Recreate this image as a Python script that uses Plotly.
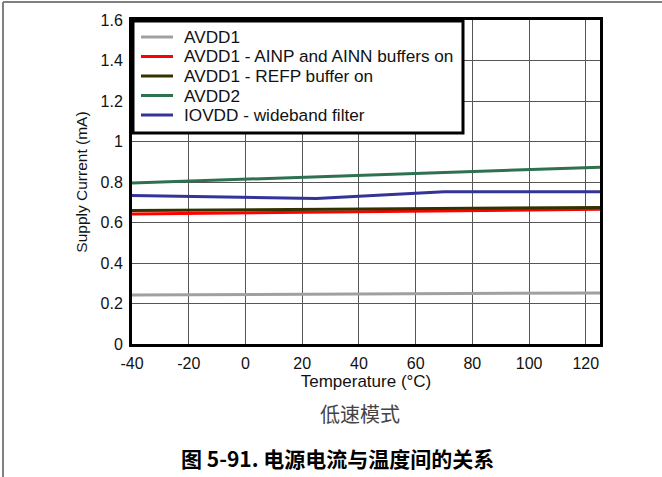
import plotly.graph_objects as go

# values (supply current, mA)
temp_c = [-40, 25, 70, 125]
avdd1 = [0.242, 0.246, 0.249, 0.252]
avdd1_ainp_ainn = [0.642, 0.650, 0.656, 0.665]
avdd1_refp = [0.659, 0.664, 0.668, 0.674]
avdd2 = [0.795, 0.825, 0.848, 0.873]
iovdd_wideband = [0.733, 0.718, 0.752, 0.752]

series_names = ["AVDD1", "AVDD1 - AINP and AINN buffers on", "AVDD1 - REFP buffer on",
                "AVDD2", "IOVDD - wideband filter"]
series_vals = [avdd1, avdd1_ainp_ainn, avdd1_refp, avdd2, iovdd_wideband]
series_colors = ["#a0a0a0", "#ff0000", "#333300", "#2e7050", "#333399"]

x_ticks = [-40, -20, 0, 20, 40, 60, 80, 100, 120]
x_ticklabels = ["-40", "-20", "0", "20", "40", "60", "80", "100", "120"]
y_ticks = [0, 0.2, 0.4, 0.6, 0.8, 1, 1.2, 1.4, 1.6]

FONT = "Liberation Sans, Arial, sans-serif"
CJK = "Noto Sans CJK SC, sans-serif"

W, H = 662, 477
L, R, T, B = 132, 62, 20, 133
PW, PH = W - L - R, H - T - B


def px(x):  # pixel column -> paper x
    return (x - L) / PW


def py(y):  # pixel row -> paper y
    return (H - B - y) / PH


fig = go.Figure()
for name, vals, col in zip(series_names, series_vals, series_colors):
    fig.add_trace(go.Scatter(x=temp_c, y=vals, name=name, mode="lines",
                             line=dict(color=col, width=3)))

axis_common = dict(showline=True, linecolor="black", linewidth=3, mirror=True,
                   showgrid=True, gridcolor="#555555", gridwidth=1, zeroline=False,
                   tickfont=dict(family=FONT, size=16, color="#111"),
                   ticks="outside", ticklen=3, tickcolor="rgba(0,0,0,0)")

fig.update_xaxes(range=[-40, 125], tickvals=x_ticks, ticktext=x_ticklabels,
                 title=dict(text="Temperature (°C)", font=dict(family=FONT, size=17, color="#111"),
                            standoff=0),
                 **axis_common)
fig.update_yaxes(range=[0, 1.6], tickvals=y_ticks,
                 title=dict(text="Supply Current (mA)", font=dict(family=FONT, size=15.5, color="#111"),
                            standoff=10),
                 **axis_common)

fig.update_layout(
    width=W, height=H,
    margin=dict(l=L, r=R, t=T, b=B),
    plot_bgcolor="white", paper_bgcolor="white",
    showlegend=False,
    font=dict(family=FONT),
)

# legend box drawn by hand so the row spacing matches the original
fig.add_shape(type="rect", xref="paper", yref="paper",
              x0=px(133), x1=px(463), y0=py(133), y1=py(21),
              fillcolor="white", line=dict(color="black", width=3))
for i, (name, col) in enumerate(zip(series_names, series_colors)):
    row_y = py(37 + i * 19.5)
    fig.add_shape(type="line", xref="paper", yref="paper",
                  x0=px(141), x1=px(173), y0=row_y, y1=row_y,
                  line=dict(color=col, width=3))
    fig.add_annotation(text=name, xref="paper", yref="paper", x=px(182), y=row_y,
                       xanchor="left", yanchor="middle", showarrow=False,
                       font=dict(family=FONT, size=17.2, color="#111"))

# outer frame (left and top edges, as in the reference)
fig.add_shape(type="line", xref="paper", yref="paper",
              x0=px(3), x1=px(3), y0=py(2), y1=py(480),
              line=dict(color="#808080", width=2))
fig.add_shape(type="line", xref="paper", yref="paper",
              x0=px(3), x1=px(665), y0=py(2), y1=py(2),
              line=dict(color="#808080", width=2))

fig.add_annotation(text="低速模式", xref="paper", yref="paper",
                   x=px(360), y=py(413), showarrow=False,
                   xanchor="center", yanchor="middle",
                   font=dict(family=CJK, size=20, color="#444"))
fig.add_annotation(text="<b>图 5-91. 电源电流与温度间的关系</b>", xref="paper", yref="paper",
                   x=px(337), y=py(458), showarrow=False,
                   xanchor="center", yanchor="middle",
                   font=dict(family=CJK, size=21, color="#000"))

fig.write_html("out.html", config={"displayModeBar": False},
               post_script="document.body.style.margin='0';")
